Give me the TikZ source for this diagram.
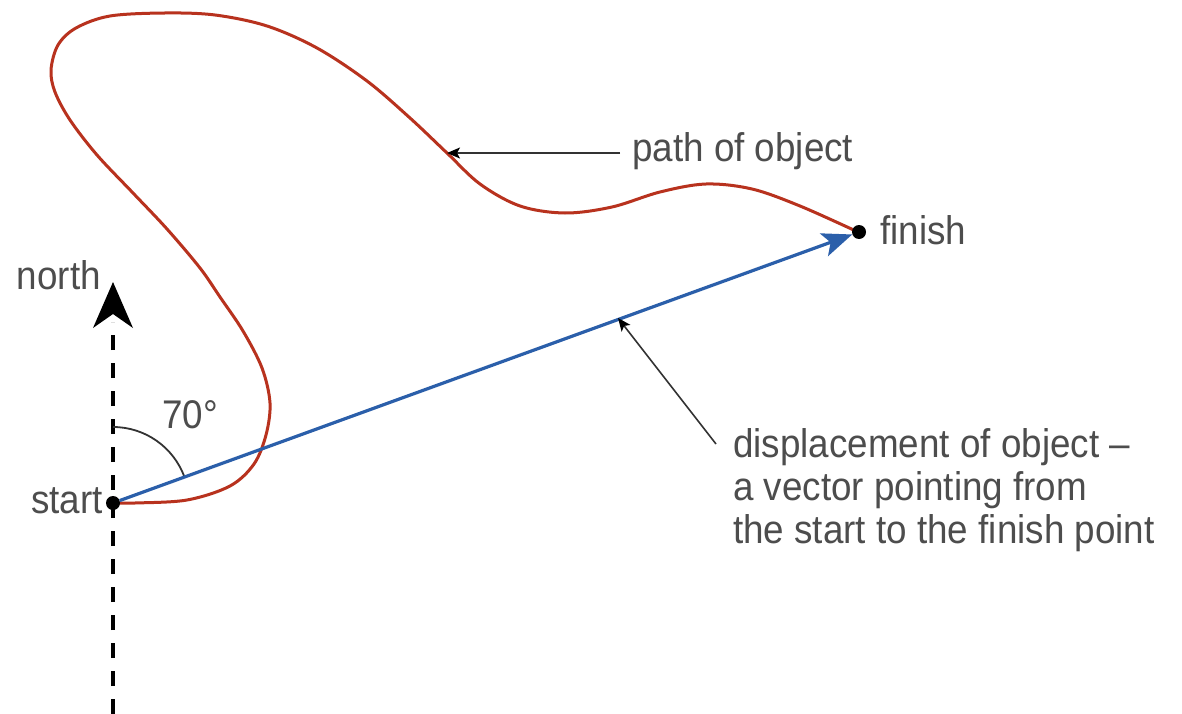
\documentclass[tikz,border=0pt]{standalone}
\usepackage{fontspec}
\setmainfont{Liberation Sans}[FakeStretch=0.92]
\usetikzlibrary{arrows.meta}
\definecolor{txtgray}{HTML}{4D4D4D}
\definecolor{pathred}{HTML}{B8321E}
\definecolor{vecblue}{HTML}{2B5FAA}
\tikzset{
  lbl/.style={text=txtgray, font=\fontsize{40}{43}\selectfont, inner sep=0pt},
  dotnode/.style={circle, fill=black, minimum size=14pt, inner sep=0pt},
  pointer/.style={draw=black!80, line width=1.6pt, -{Stealth[length=13pt,width=11pt,inset=3pt,black]}},
  northline/.style={line width=4pt, dash pattern=on 15pt off 13pt},
  objpath/.style={draw=pathred, line width=3pt, line cap=round},
  dispvec/.style={draw=vecblue, line width=3.2pt, -{Stealth[length=30pt,width=24pt,inset=7pt]}},
}
\begin{document}
\begin{tikzpicture}[x=1pt,y=-1pt]
\useasboundingbox (0,0) rectangle (1182,714);
\fill[white] (0,0) rectangle (1182,714);
% north line
\coordinate (nbot) at (113,714);
\coordinate (ntip) at (113,282);
\coordinate (nbase) at (113,322);
\draw[northline] (nbot) -- (nbase);
\fill (ntip) -- (133,328) -- (113,314) -- (93,328) -- cycle;
% angle arc
\draw[black!80, line width=1.8pt] (113,427) arc[start angle=-90, end angle=-20, radius=76];
% path of object
\draw[objpath] plot[smooth, tension=0.55] coordinates {
 (113,503) (135,503) (187,500) (230,486) (254,464) (266,435) (270,403) (262,368)
 (243,331) (220,297) (200,268) (167,229) (133,193) (97,155) (70,120) (55,92)
 (51,70) (58,45) (76,28) (110,16) (165,13) (215,15) (267,26) (317,48) (367,81)
 (410,118) (447,153) (480,184) (520,206) (565,213) (612,207) (660,192) (706,184)
 (752,189) (800,206) (858,232)};
% dots
\node[dotnode] (start) at (113,503) {};
\node[dotnode] (finish) at (859,232) {};
% displacement vector
\draw[dispvec] (start) -- (finish);
% labels
\node[lbl, anchor=base east] (northlbl) at (101,289) {north};
\node[lbl, anchor=base east] (startlbl) at (103,513) {start};
\node[lbl, anchor=base west] (finishlbl) at (880,244) {finish};
\node[lbl, anchor=base west] (anglbl) at (162,428) {70°};
\node[lbl, anchor=base west] (pathlbl) at (632,162) {path of object};
\node[lbl, anchor=base west, align=left] (displbl) at (733,543)
  {displacement of object –\\a vector pointing from\\the start to the finish point};
% pointers
\coordinate (ptip) at (447,153);
\coordinate (dtip) at (618,318);
\coordinate (pstart) at (620,153);
\coordinate (dstart) at (716,444);
\draw[pointer] (pstart) -- (ptip);
\draw[pointer] (dstart) -- (dtip);
\end{tikzpicture}
\end{document}
